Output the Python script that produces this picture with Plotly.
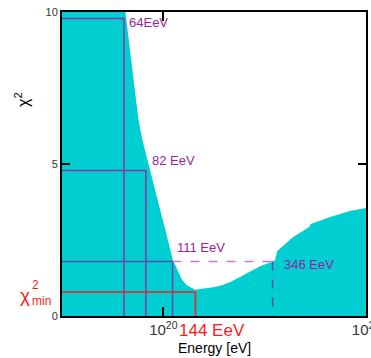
import numpy as np
import plotly.graph_objects as go

# chi-square scan versus energy (EeV)
energy_eev = [30, 50, 60, 65, 70.2, 75.4, 78.8, 86.2, 93.4, 102.3, 111.4, 117.2,
              124, 131, 140.5, 144, 152, 165, 180, 196, 214, 239, 268, 300, 346,
              356, 365, 437, 525, 533, 665, 834, 1000]
chi2 = [30, 17, 12.3, 10.0, 8.22, 6.45, 5.79, 4.80, 3.82, 2.83, 1.84, 1.51,
        1.18, 1.0, 0.88, 0.86, 0.89, 0.92, 0.95, 1.02, 1.12, 1.28, 1.45, 1.64, 1.79,
        1.84, 2.14, 2.60, 2.93, 3.03, 3.26, 3.45, 3.55]

# best fit and confidence bounds
chi2_min = 0.79
e_best = 144
delta_levels = [9, 4, 1]
e_lower = [64, 82, 111]
e_upper_1sigma = 346
lower_labels = ["64EeV", "82 EeV", "111 EeV"]
upper_label = "346 EeV"
best_label = "144 EeV"

EEV = 1e18
FILL = "#00CED1"
PURPLE = "#8e33a6"
BLUEPURPLE = "#5a4cb0"
LAVENDER = "#c27cc9"
TEXT_PURPLE = "#981f9c"
RED = "#ff1a1a"
FONT = "Liberation Sans, Arial, sans-serif"
X_RANGE = [19.5, 21.0]
Y_RANGE = [0, 10]

energy_ev = [e * EEV for e in energy_eev]

fig = go.Figure()

fig.add_trace(go.Scatter(
    x=energy_ev, y=chi2,
    mode="lines", line=dict(width=0, color=FILL),
    fill="tozeroy", fillcolor=FILL, hoverinfo="skip"))

x_left = 10 ** X_RANGE[0]
line_colors = [PURPLE, PURPLE, BLUEPURPLE]
for e, d, col in zip(e_lower, delta_levels, line_colors):
    lvl = chi2_min + d
    fig.add_trace(go.Scatter(
        x=[x_left, e * EEV, e * EEV], y=[lvl, lvl, 0],
        mode="lines", line=dict(color=col, width=1.5), hoverinfo="skip"))

# 1-sigma interval continuation to the upper bound
lvl1 = chi2_min + 1
fig.add_trace(go.Scatter(
    x=[e_lower[2] * EEV, e_upper_1sigma * EEV], y=[lvl1, lvl1],
    mode="lines", line=dict(color=LAVENDER, width=1.5, dash="dash"),
    hoverinfo="skip"))
fig.add_trace(go.Scatter(
    x=[e_upper_1sigma * EEV, e_upper_1sigma * EEV], y=[lvl1, 0],
    mode="lines", line=dict(color=BLUEPURPLE, width=1.5, dash="dash"),
    hoverinfo="skip"))

# best fit marker lines
fig.add_trace(go.Scatter(
    x=[x_left, e_best * EEV, e_best * EEV], y=[chi2_min, chi2_min, 0],
    mode="lines", line=dict(color=RED, width=1.5), hoverinfo="skip"))

ann = []
shifts = [(3, -4, "middle"), (4, 0, "bottom"), (2, 5, "bottom")]
for e, d, txt, (xs, ys, ya) in zip(e_lower, delta_levels, lower_labels, shifts):
    ann.append(dict(x=np.log10(e * EEV), y=chi2_min + d, text=txt,
                    xanchor="left", yanchor=ya, xshift=xs, yshift=ys,
                    showarrow=False, font=dict(size=13, color=TEXT_PURPLE, family=FONT)))
ann.append(dict(x=np.log10(e_upper_1sigma * EEV), y=lvl1, text=upper_label,
                xanchor="left", yanchor="middle", xshift=9, yshift=-3,
                showarrow=False, font=dict(size=13, color=TEXT_PURPLE, family=FONT)))
ann.append(dict(x=np.log10(e_best * EEV), y=0, text=best_label,
                xanchor="left", yanchor="middle", xshift=-18, yshift=-14,
                showarrow=False, font=dict(size=17, color=RED, family=FONT)))

# chi^2_min label with stacked super/subscript
ann.append(dict(xref="paper", x=(25 - 62) / 304, y=chi2_min, text="χ",
                xanchor="center", yanchor="middle", yshift=-4,
                showarrow=False, font=dict(size=19, color=RED, family=FONT)))
ann.append(dict(xref="paper", x=(35 - 62) / 304, y=chi2_min, text="2",
                xanchor="center", yanchor="middle", yshift=7,
                showarrow=False, font=dict(size=12, color=RED, family=FONT)))
ann.append(dict(xref="paper", x=(41.5 - 62) / 304, y=chi2_min, text="min",
                xanchor="center", yanchor="middle", yshift=-9,
                showarrow=False, font=dict(size=12, color=RED, family=FONT)))

# axis titles
ann.append(dict(xref="paper", yref="paper", x=(22 - 62) / 304, y=(316 - 100) / 304,
                text="χ<sup>2</sup>", textangle=-90, xanchor="center", yanchor="middle",
                showarrow=False, font=dict(size=16, color="black", family=FONT)))
ann.append(dict(xref="paper", yref="paper", x=0.5, y=(316 - 348) / 304,
                text="Energy [eV]", xanchor="center", yanchor="middle",
                showarrow=False, font=dict(size=14, color="black", family=FONT)))

fig.update_layout(
    template="none",
    width=371, height=358,
    margin=dict(l=62, r=5, t=12, b=42, autoexpand=False),
    showlegend=False,
    annotations=ann,
    xaxis=dict(
        type="log", range=X_RANGE, dtick=1,
        exponentformat="power", showexponent="all",
        showline=True, linecolor="black", linewidth=2, mirror="allticks",
        ticks="inside", ticklen=9, tickwidth=1.5, tickcolor="black",
        showgrid=False, ticklabeloverflow="allow",
        tickfont=dict(size=12, color="#333333", family=FONT)),
    yaxis=dict(
        range=Y_RANGE, dtick=5, tick0=0,
        showline=True, linecolor="black", linewidth=2, mirror="allticks",
        ticks="inside", ticklen=8, tickwidth=1.5, tickcolor="black",
        showgrid=False,
        tickfont=dict(size=11, color="#333333", family=FONT)),
)

fig.write_html("out.html")
